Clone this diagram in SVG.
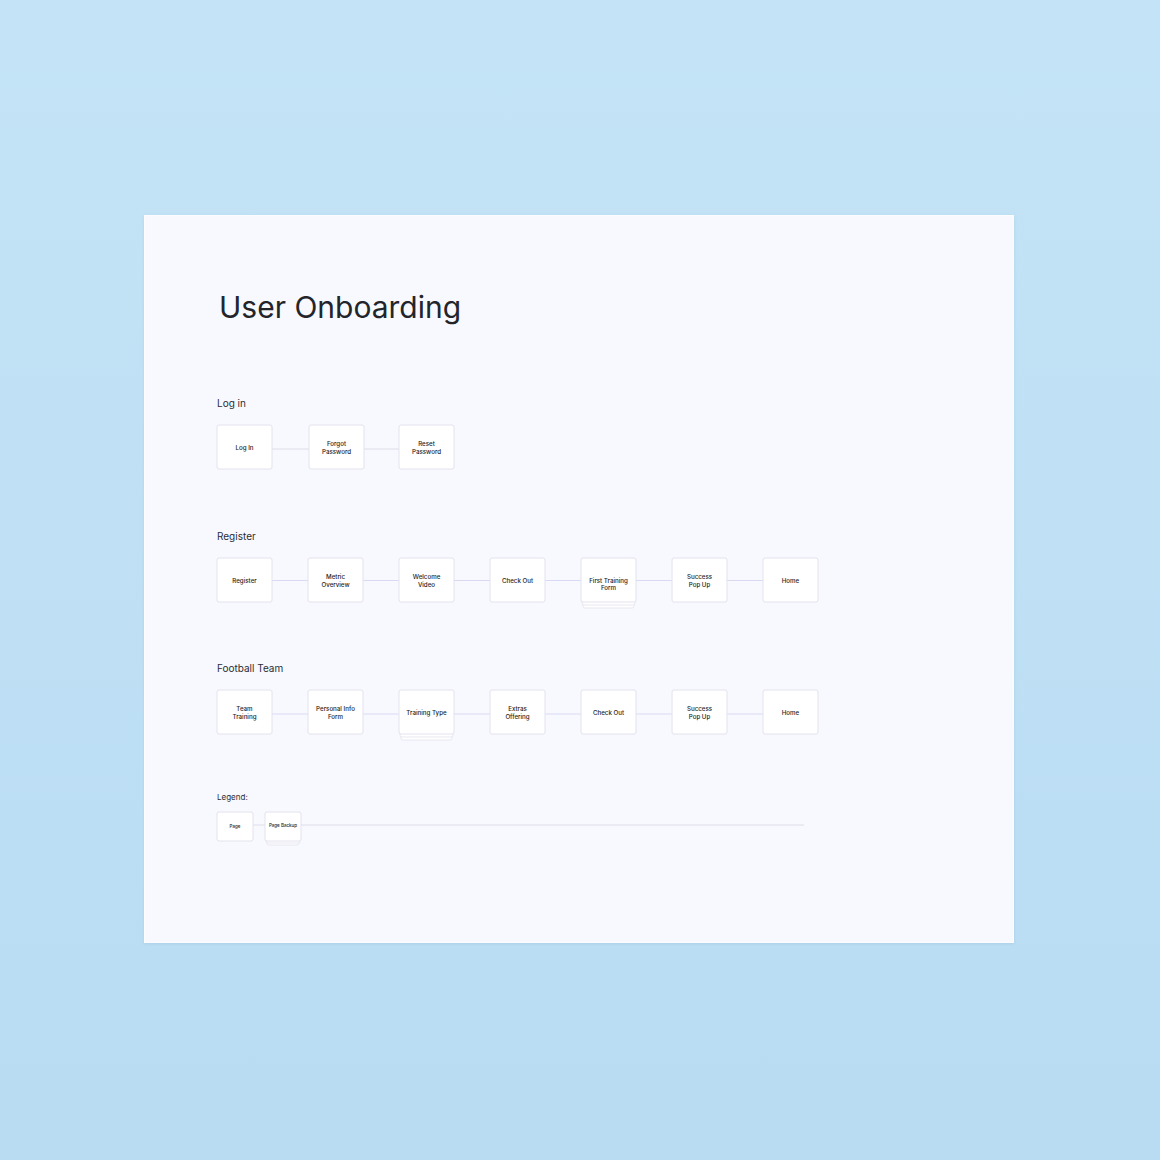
<svg xmlns="http://www.w3.org/2000/svg" width="1160" height="1160" viewBox="0 0 1160 1160">
  <defs>
    <linearGradient id="bg" x1="0" y1="0" x2="0" y2="1">
      <stop offset="0" stop-color="#c4e3f6"/>
      <stop offset="1" stop-color="#b9dcf3"/>
    </linearGradient>
    <filter id="sh" x="-5%" y="-5%" width="110%" height="110%">
      <feDropShadow dx="0" dy="1" stdDeviation="1.5" flood-color="#7fa9c6" flood-opacity="0.25"/>
    </filter>
  </defs>
  <style>
    .node { fill: #ffffff; stroke: #e2e2ee; stroke-width: 1; }
    .layer { fill: #ffffff; stroke: #e2e2ee; stroke-width: 0.8; }
    .conn { stroke: #d9d9f3; stroke-width: 1; fill: none; }
    .conn2 { stroke: #dcdce8; stroke-width: 1; fill: none; }
    .lbl { font-family: Inter, "Liberation Sans", sans-serif; font-size: 6.2px; font-weight: 500; fill: #1d1e24; text-anchor: middle; }
    .sec { font-family: Inter, "Liberation Sans", sans-serif; font-size: 10px; font-weight: 400; fill: #2a2c33; }
    .title { font-family: Inter, "Liberation Sans", sans-serif; font-size: 30px; font-weight: 400; fill: #23252b; }
    .tiny { font-family: Inter, "Liberation Sans", sans-serif; font-size: 4.5px; font-weight: 500; fill: #1d1e24; text-anchor: middle; }
  </style>
  <rect x="0" y="0" width="1160" height="1160" fill="url(#bg)"/>
  <rect x="144" y="215" width="870" height="728" fill="#f8f9fe" filter="url(#sh)"/>
  <rect x="144.5" y="215.5" width="869" height="727" fill="none" stroke="#ffffff" stroke-opacity="0.5" stroke-width="1"/>

  <text class="title" x="219" y="317.5">User Onboarding</text>

  <text class="sec" x="217" y="407">Log in</text>
  <text class="sec" x="217" y="540">Register</text>
  <text class="sec" x="217" y="671.5">Football Team</text>
  <text class="sec" x="217" y="799.5" style="font-size:8px">Legend:</text>

  <g id="connectors">
    <line class="conn2" x1="271" y1="449" x2="309" y2="449"/>
    <line class="conn2" x1="364" y1="449" x2="399" y2="449"/>

    <line class="conn" x1="272" y1="580.5" x2="308" y2="580.5"/>
    <line class="conn" x1="363" y1="580.5" x2="399" y2="580.5"/>
    <line class="conn" x1="454" y1="580.5" x2="490" y2="580.5"/>
    <line class="conn" x1="545" y1="580.5" x2="581" y2="580.5"/>
    <line class="conn" x1="636" y1="580.5" x2="672" y2="580.5"/>
    <line class="conn" x1="727" y1="580.5" x2="763" y2="580.5"/>

    <line class="conn" x1="272" y1="714" x2="308" y2="714"/>
    <line class="conn" x1="363" y1="714" x2="399" y2="714"/>
    <line class="conn" x1="454" y1="714" x2="490" y2="714"/>
    <line class="conn" x1="545" y1="714" x2="581" y2="714"/>
    <line class="conn" x1="636" y1="714" x2="672" y2="714"/>
    <line class="conn" x1="727" y1="714" x2="763" y2="714"/>

    <line class="conn2" x1="253" y1="825" x2="265" y2="825" stroke-width="1.3"/>
    <line class="conn2" x1="301" y1="825" x2="804" y2="825" stroke-width="1.3"/>
  </g>

  <!-- Log in row -->
  <g id="n-login">
    <rect class="node" x="217" y="425" width="55" height="44" rx="2"/>
    <text class="lbl" x="244.5" y="449.7">Log In</text>
  </g>
  <g id="n-forgot">
    <rect class="node" x="309" y="425" width="55" height="44" rx="2"/>
    <text class="lbl" x="336.5" y="445.7">Forgot</text>
    <text class="lbl" x="336.5" y="453.9">Password</text>
  </g>
  <g id="n-reset">
    <rect class="node" x="399" y="425" width="55" height="44" rx="2"/>
    <text class="lbl" x="426.5" y="445.7">Reset</text>
    <text class="lbl" x="426.5" y="453.9">Password</text>
  </g>

  <!-- Register row -->
  <g id="n-register">
    <rect class="node" x="217" y="558" width="55" height="44" rx="2"/>
    <text class="lbl" x="244.5" y="582.8">Register</text>
  </g>
  <g id="n-metric">
    <rect class="node" x="308" y="558" width="55" height="44" rx="2"/>
    <text class="lbl" x="335.5" y="578.6">Metric</text>
    <text class="lbl" x="335.5" y="586.8">Overview</text>
  </g>
  <g id="n-welcome">
    <rect class="node" x="399" y="558" width="55" height="44" rx="2"/>
    <text class="lbl" x="426.5" y="578.6">Welcome</text>
    <text class="lbl" x="426.5" y="586.8">Video</text>
  </g>
  <g id="n-checkout1">
    <rect class="node" x="490" y="558" width="55" height="44" rx="2"/>
    <text class="lbl" x="517.5" y="582.8">Check Out</text>
  </g>
  <g id="n-firsttraining">
    <rect class="layer" x="583" y="564" width="51" height="44" rx="2"/>
    <rect class="layer" x="582" y="561" width="53" height="44" rx="2"/>
    <rect class="node" x="581" y="558" width="55" height="44" rx="2"/>
    <text class="lbl" x="608.5" y="582.6">First Training</text>
    <text class="lbl" x="608.5" y="590.2">Form</text>
  </g>
  <g id="n-success1">
    <rect class="node" x="672" y="558" width="55" height="44" rx="2"/>
    <text class="lbl" x="699.5" y="578.6">Success</text>
    <text class="lbl" x="699.5" y="586.8">Pop Up</text>
  </g>
  <g id="n-home1">
    <rect class="node" x="763" y="558" width="55" height="44" rx="2"/>
    <text class="lbl" x="790.5" y="582.8">Home</text>
  </g>

  <!-- Football Team row -->
  <g id="n-teamtraining">
    <rect class="node" x="217" y="690" width="55" height="44" rx="2"/>
    <text class="lbl" x="244.5" y="710.5">Team</text>
    <text class="lbl" x="244.5" y="718.7">Training</text>
  </g>
  <g id="n-personal">
    <rect class="node" x="308" y="690" width="55" height="44" rx="2"/>
    <text class="lbl" x="335.5" y="710.5">Personal Info</text>
    <text class="lbl" x="335.5" y="718.7">Form</text>
  </g>
  <g id="n-trainingtype">
    <rect class="layer" x="401" y="696" width="51" height="44" rx="2"/>
    <rect class="layer" x="400" y="693" width="53" height="44" rx="2"/>
    <rect class="node" x="399" y="690" width="55" height="44" rx="2"/>
    <text class="lbl" x="426.5" y="714.6">Training Type</text>
  </g>
  <g id="n-extras">
    <rect class="node" x="490" y="690" width="55" height="44" rx="2"/>
    <text class="lbl" x="517.5" y="710.5">Extras</text>
    <text class="lbl" x="517.5" y="718.7">Offering</text>
  </g>
  <g id="n-checkout2">
    <rect class="node" x="581" y="690" width="55" height="44" rx="2"/>
    <text class="lbl" x="608.5" y="714.6">Check Out</text>
  </g>
  <g id="n-success2">
    <rect class="node" x="672" y="690" width="55" height="44" rx="2"/>
    <text class="lbl" x="699.5" y="710.5">Success</text>
    <text class="lbl" x="699.5" y="718.7">Pop Up</text>
  </g>
  <g id="n-home2">
    <rect class="node" x="763" y="690" width="55" height="44" rx="2"/>
    <text class="lbl" x="790.5" y="714.6">Home</text>
  </g>

  <!-- Legend -->
  <g id="legend-page">
    <rect class="node" x="217" y="812" width="36" height="29" rx="2"/>
    <text class="tiny" x="235" y="828.3">Page</text>
  </g>
  <g id="legend-pagebackup">
    <rect class="layer" x="267" y="816" width="32" height="29" rx="2"/>
    <rect class="layer" x="266" y="814" width="34" height="29" rx="2"/>
    <rect class="node" x="265" y="812" width="36" height="29" rx="2"/>
    <text class="tiny" x="283" y="827">Page Backup</text>
  </g>
</svg>
